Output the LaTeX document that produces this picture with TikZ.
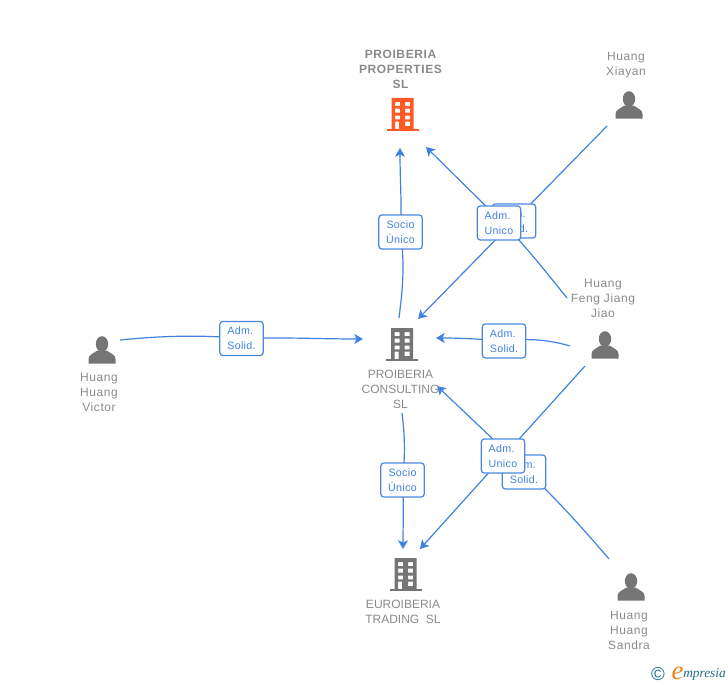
\documentclass[tikz,border=0pt]{standalone}
\usepackage{fontspec}
\setmainfont{Liberation Sans}
\newfontfamily\logofont{Liberation Serif}
\usetikzlibrary{arrows.meta}
\definecolor{linkblue}{HTML}{3F83E2}
\definecolor{boxblue}{HTML}{4A88E0}
\definecolor{labelgray}{HTML}{8A8A8A}
\definecolor{icongray}{HTML}{757575}
\definecolor{iconorange}{HTML}{FF5A26}
\definecolor{logoteal}{HTML}{1F6F8B}
\definecolor{logoorange}{HTML}{F08018}
\tikzset{
  link/.style={draw=linkblue,line width=0.9pt},
  arrowlink/.style={link,-{Stealth[length=6.5pt,width=7.5pt,inset=1.6pt]}},
  rolebox/.style={draw=boxblue,line width=0.9pt,fill=white,rounded corners=2.2pt,minimum width=32.5pt,minimum height=25.5pt,inner sep=0pt,text=linkblue,font=\fontsize{8}{11.2}\selectfont\addfontfeature{LetterSpace=3}},
  socbox/.style={rolebox,align=center},
  admbox/.style={rolebox,align=left},
  namelabel/.style={align=center,text=labelgray,inner sep=0pt,font=\fontsize{9}{11.25}\selectfont},
  personlabel/.style={namelabel,font=\fontsize{9}{11.25}\selectfont\addfontfeature{LetterSpace=5}},
  boldlabel/.style={namelabel,font=\fontsize{9}{11.25}\selectfont\bfseries\addfontfeature{LetterSpace=5}},
  pics/building/.style={code={
    \fill[#1,even odd rule] (-11,-17) rectangle (11,14)
      (-7.5,-13) rectangle (-2.5,-9) (2.5,-13) rectangle (7.5,-9)
      (-7.5,-6.3) rectangle (-2.5,-2.3) (2.5,-6.3) rectangle (7.5,-2.3)
      (-7.5,0.6) rectangle (-2.5,4.3) (2.5,0.6) rectangle (7.5,4.3)
      (-7.5,6.7) rectangle (-3.5,14) (2.5,6.7) rectangle (7.5,11);
    \fill[#1] (-16,14) rectangle (16,16.2);
  }},
  pics/person/.style={code={
    \fill[icongray] (0,-6) ellipse (6.2 and 7.8);
    \fill[icongray] (-13.5,13.5) -- (-13.5,9) .. controls (-13.5,5) and (-9,3.5) .. (-4.5,0.5)
      -- (4.5,0.5) .. controls (9,3.5) and (13.5,5) .. (13.5,9) -- (13.5,13.5) -- cycle;
  }}
}
\begin{document}
\begin{tikzpicture}[x=0.75pt,y=-0.75pt]
\useasboundingbox (0,0) rectangle (728,685);
% free ends
\coordinate (xiayanEnd) at (607,126);
\coordinate (fengUp) at (567,298);
\coordinate (fengBend) at (502,222);
\coordinate (fengLeft) at (570,346);
\coordinate (fengDown) at (585,366);
\coordinate (sandraEnd) at (609,559);
\coordinate (sandraBend) at (515,460);
\coordinate (victorEnd) at (120,340);
\coordinate (propBottom) at (400,148);
\coordinate (propSide) at (426,147);
\coordinate (consTopIn) at (418,319);
\coordinate (consTopOut) at (399,318);
\coordinate (consLeft) at (363,339);
\coordinate (consRight) at (436,338);
\coordinate (consSide) at (437,386);
\coordinate (consBottom) at (402,413);
\coordinate (euroTop) at (403,549);
\coordinate (euroSide) at (420,549);
\path
  (400.5,232) coordinate (socioA)
  (402.5,480) coordinate (socioB)
  (241.5,338.5) coordinate (solidL)
  (504,341) coordinate (solidR)
  (514,221) coordinate (solidU)
  (499,223) coordinate (unicoU)
  (503,456) coordinate (unicoD)
  (524,472) coordinate (solidD);
% connectors
\draw[link] (consTopOut) .. controls (401,300) and (406,270) .. (socioA);
\draw[arrowlink] (socioA) .. controls (402,205) and (400,180) .. (propBottom);
\draw[arrowlink] (xiayanEnd) -- (consTopIn);
\draw[link] (fengUp) .. controls (550,277) and (525,245) .. (fengBend);
\draw[arrowlink] (fengBend) -- (propSide);
\draw[link] (victorEnd) .. controls (160,336) and (200,334.5) .. (solidL);
\draw[arrowlink] (solidL) .. controls (280,337) and (320,339) .. (consLeft);
\draw[link] (fengLeft) .. controls (550,340) and (530,338) .. (solidR);
\draw[arrowlink] (solidR) .. controls (480,339) and (460,338) .. (consRight);
\draw[arrowlink] (fengDown) -- (euroSide);
\draw[link] (sandraEnd) .. controls (580,525) and (550,492) .. (sandraBend);
\draw[arrowlink] (sandraBend) -- (consSide);
\draw[link] (consBottom) .. controls (404,430) and (406,450) .. (socioB);
\draw[arrowlink] (socioB) .. controls (404,500) and (403,525) .. (euroTop);
% boxes
\node[socbox] (boxSocioA) at (socioA) {Socio\\Único};
\node[socbox] (boxSocioB) at (socioB) {Socio\\Único};
\node[admbox] (boxSolidL) at (solidL) {Adm.\\Solid.};
\node[admbox] (boxSolidR) at (solidR) {Adm.\\Solid.};
\node[admbox] (boxSolidU) at (solidU) {Adm.\\Solid.};
\node[admbox] (boxUnicoU) at (unicoU) {Adm.\\Unico};
\node[admbox] (boxSolidD) at (solidD) {Adm.\\Solid.};
\node[admbox] (boxUnicoD) at (unicoD) {Adm.\\Unico};
% icons
\pic at (402.5,115) {building=iconorange};
\pic at (402,345) {building=icongray};
\pic at (405.5,575) {building=icongray};
\pic at (629,105) {person};
\pic at (605,345) {person};
\pic at (102,350) {person};
\pic at (631,587) {person};
% labels
\node[boldlabel] (lProp) at (400.5,69) {PROIBERIA\\PROPERTIES\\SL};
\node[namelabel] (lCons) at (400.5,389) {PROIBERIA\\CONSULTING\\SL};
\node[namelabel] (lEuro) at (403,611.5) {EUROIBERIA\\TRADING\ \ SL};
\node[personlabel] (lXia) at (626,65.5) {Huang\\Xiayan};
\node[personlabel] (lFeng) at (603,298) {Huang\\Feng Jiang\\Jiao};
\node[personlabel] (lVic) at (99,392) {Huang\\Huang\\Victor};
\node[personlabel] (lSan) at (629,630) {Huang\\Huang\\Sandra};
% logo
\node[inner sep=0pt,text=logoteal,font=\fontsize{14}{14}\selectfont] (logoC) at (658,674) {©};
\node[inner sep=0pt,text=logoorange,font=\logofont\itshape\fontsize{20}{20}\selectfont] (logoE) at (677.5,673) {e};
\node[inner sep=0pt,anchor=west,text=logoteal,font=\logofont\itshape\fontsize{10}{12}\selectfont] (logoT) at (683,674) {mpresia};
\end{tikzpicture}
\end{document}
